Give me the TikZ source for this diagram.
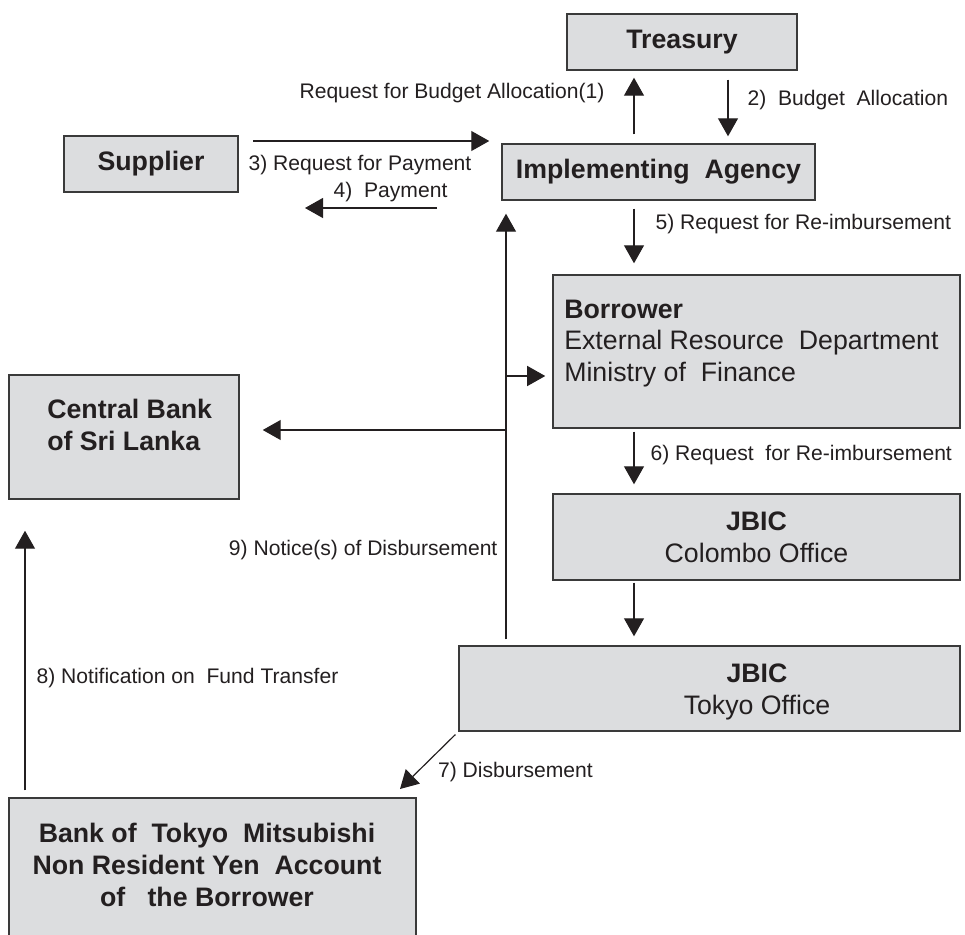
\documentclass[tikz,border=0pt]{standalone}
\usepackage{fontspec}
\setmainfont{Liberation Sans}
\usetikzlibrary{arrows.meta}
\definecolor{ink}{HTML}{231F20}
\definecolor{boxfill}{HTML}{DCDDDF}
\definecolor{boxline}{HTML}{3A3A3A}
\begin{document}
\begin{tikzpicture}[x=0.025cm, y=-0.025cm,
  box/.style={draw=boxline, fill=boxfill, line width=1pt, inner sep=0pt, text=ink, font=\fontsize{19}{22.7}\selectfont},
  hd/.style={box, font=\fontsize{19}{22.7}\selectfont\bfseries},
  txt/.style={inner sep=0pt, text=ink, font=\fontsize{19}{22.7}\selectfont},
  lbl/.style={inner sep=0pt, text=ink, font=\fontsize{15}{18}\selectfont},
  arr/.style={draw=ink, line width=0.85pt, -{Triangle[length=0.45cm,width=0.5cm]}}]
\useasboundingbox (0,0) rectangle (965,934);
\clip (0,0) rectangle (965,934);

\node[hd, minimum width=5.75cm, minimum height=1.4cm] (tr) at (682,42) {Treasury};
\node[hd, minimum width=7.825cm, minimum height=1.4cm] (ia) at (658.5,172) {Implementing\ \ Agency};
\node[hd, minimum width=4.35cm, minimum height=1.4cm] (sup) at (151,164) {Supplier};
\node[box, minimum width=10.175cm, minimum height=3.825cm] (bor) at (756.5,351.5) {};
\node[txt, anchor=west, align=left] (bor-t) at (564,343.5) {\textbf{Borrower}\\External Resource\ \ Department\\Ministry of\ \ Finance};
\node[box, minimum width=10.175cm, minimum height=2.15cm, align=center] (jc) at (756.5,537) {\textbf{JBIC}\\Colombo Office};
\node[box, minimum width=12.525cm, minimum height=2.125cm] (jt) at (709.5,688.5) {};
\node[txt, align=center] (jt-t) at (757,691.5) {\textbf{JBIC}\\Tokyo Office};
\node[box, minimum width=5.75cm, minimum height=3.1cm] (cb) at (124,437) {};
\node[txt, anchor=west, align=left, font=\fontsize{19}{22.7}\selectfont\bfseries] (cb-t) at (47,424.5) {Central Bank\\of Sri Lanka};
\node[box, minimum width=10.175cm, minimum height=4.05cm] (bt) at (212.5,879) {};
\node[txt, align=center, font=\fontsize{19}{22.7}\selectfont\bfseries] (bt-t) at (207,865) {Bank of\ \ Tokyo\ \ Mitsubishi\\Non Resident Yen\ \ Account\\of\ \ \ the Borrower};

\coordinate (xa) at (634,0);
\coordinate (xb) at (728,0);
\coordinate (xc) at (506,0);
\coordinate (xd) at (25,0);
\coordinate (p3) at (253,141);
\coordinate (p4a) at (437,208);
\coordinate (p4b) at (305,208);
\coordinate (p7) at (400,789);
\coordinate (j1) at (506,376);
\coordinate (j2) at (506,430);

\draw[arr, shorten <=0.225cm, shorten >=0.175cm] (ia.north -| xa) to node[lbl, pos=.689, anchor=east, xshift=-0.725cm]{Request for Budget Allocation(1)} (tr.south -| xa);
\draw[arr, shorten <=0.225cm, shorten >=0.175cm] (tr.south -| xb) to node[lbl, pos=.405, anchor=west, xshift=0.475cm]{2)\ \ Budget\ \ Allocation} (ia.north -| xb);
\draw[arr, shorten >=0.3cm] (p3) to node[lbl, pos=0, anchor=west, xshift=-0.125cm, yshift=-0.6cm]{3) Request for Payment} (ia.west |- p3);
\draw[arr] (p4a) to node[lbl, pos=0, anchor=east, xshift=0.275cm, yshift=0.4cm]{4)\ \ Payment} (p4b);
\draw[arr, shorten <=0.2cm, shorten >=0.275cm] (ia.south -| xa) to node[lbl, pos=.32, anchor=west, xshift=0.525cm]{5) Request for Re-imbursement} (bor.north -| xa);
\draw[arr, shorten <=0.075cm, shorten >=0.225cm] (bor.south -| xa) to node[lbl, pos=.41, anchor=west, xshift=0.4cm]{6) Request\ \ for Re-imbursement} (jc.north -| xa);
\draw[arr, shorten <=0.05cm, shorten >=0.225cm] (jc.south -| xa) to (jt.north -| xa);
\draw[arr, shorten <=0.1cm] (jt.south west) to node[lbl, pos=.7, anchor=west, xshift=0.5cm]{7) Disbursement} (p7);
\draw[arr, shorten <=0.175cm, shorten >=0.775cm] (bt.north -| xd) to node[lbl, pos=.401, anchor=west, xshift=0.275cm]{8) Notification on\ \ Fund Transfer} (cb.south -| xd);
\draw[arr, shorten <=0.15cm, shorten >=0.325cm] (jt.north -| xc) to node[lbl, pos=.215, anchor=east, xshift=-0.2cm]{9) Notice(s) of Disbursement} (ia.south -| xc);
\draw[arr, shorten >=0.175cm] (j1) to (bor.west |- j1);
\draw[arr, shorten >=0.575cm] (j2) to (cb.east |- j2);
\end{tikzpicture}
\end{document}
